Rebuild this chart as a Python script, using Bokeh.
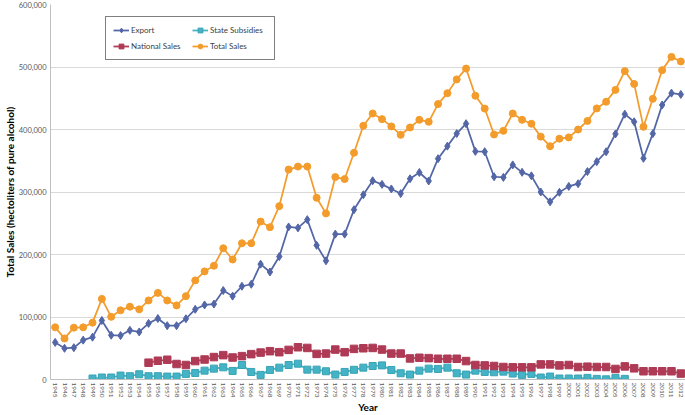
from bokeh.plotting import figure
from bokeh.models import FixedTicker, NumeralTickFormatter, Legend, LegendItem, Range1d
from bokeh.embed import file_html
from bokeh.resources import INLINE

years = list(range(1945, 2013))
export = [59.4, 49.9, 50.9, 63.0, 67.7, 94.5, 70.9, 70.3, 78.7, 76.1,
          89.8, 97.6, 86.1, 86.1, 97.2, 112.3, 119.3, 120.7, 142.4, 133.4,
          149.2, 152.4, 184.6, 172.0, 196.7, 244.1, 242.6, 255.8, 214.7, 189.9,
          232.6, 232.6, 271.7, 295.6, 318.0, 312.2, 304.9, 297.5, 321.2, 331.2,
          317.6, 353.3, 373.4, 393.5, 409.3, 365.0, 364.5, 324.4, 323.4, 343.4,
          331.5, 325.9, 300.0, 284.3, 299.5, 309.0, 313.3, 332.7, 348.6, 364.4,
          392.9, 424.5, 412.4, 353.9, 393.4, 439.2, 458.2, 456.1]
total_sales = [83.5, 65.7, 83.0, 83.5, 90.9, 129.0, 100.3, 110.7, 116.5, 112.3,
               126.5, 138.6, 126.5, 118.6, 133.4, 158.6, 173.0, 182.0, 210.0, 192.0,
               218.0, 218.0, 252.7, 243.7, 277.4, 335.9, 340.7, 340.7, 290.7, 265.8,
               323.9, 320.7, 362.8, 406.0, 425.6, 416.6, 405.0, 391.5, 403.2, 415.5,
               412.3, 440.7, 458.1, 480.2, 497.5, 454.0, 433.5, 392.0, 397.9, 425.6,
               415.5, 409.2, 388.6, 373.3, 385.3, 387.4, 400.0, 413.7, 433.8, 444.4,
               463.4, 493.4, 472.9, 404.3, 449.1, 495.0, 516.2, 508.9]

national_years = list(range(1955, 2013))
national_sales = [26.9, 30.0, 31.6, 24.8, 23.2, 29.5, 32.0, 35.9, 39.0, 35.2,
                  37.4, 40.6, 43.1, 45.3, 43.7, 47.4, 51.6, 50.5, 41.0, 41.5,
                  47.9, 43.7, 49.0, 50.0, 50.5, 47.9, 41.5, 41.5, 33.7, 34.8,
                  34.2, 33.2, 33.2, 33.2, 29.5, 23.2, 22.6, 21.6, 20.0, 19.5,
                  19.5, 19.5, 24.2, 24.2, 22.6, 23.2, 20.0, 20.5, 20.0, 20.0,
                  16.9, 21.0, 17.9, 13.2, 13.2, 13.2, 13.2, 9.5]

subsidy_years = list(range(1949, 2007))
state_subsidies = [1.6, 3.2, 3.2, 6.3, 5.3, 8.4, 5.3, 5.3, 4.7, 4.7,
                   9.0, 10.5, 14.2, 17.4, 19.5, 13.7, 23.2, 12.1, 7.4, 15.3,
                   19.0, 23.2, 25.3, 15.8, 15.8, 13.2, 7.9, 12.1, 15.5, 19.0,
                   21.6, 22.6, 15.3, 10.0, 7.9, 14.2, 17.4, 16.9, 19.0, 10.0,
                   7.9, 14.2, 12.1, 11.6, 12.6, 9.5, 7.4, 9.0, 3.2, 4.7,
                   1.6, 1.6, 1.6, 2.6, 1.0, 0.3, 2.6, 1.0]

y_ticks = [0, 100000, 200000, 300000, 400000, 500000, 600000]

K = 1000
export_v = [v * K for v in export]
total_v = [v * K for v in total_sales]
national_v = [v * K for v in national_sales]
subsidy_v = [v * K for v in state_subsidies]

FONT = "Lato"
C_EXP = "#5366A6"
C_NAT = "#AE3A55"
C_SUB = "#43B3C5"
C_TOT = "#F39C2C"

p = figure(width=685, height=415, output_backend="svg", toolbar_location=None,
           x_range=Range1d(1944.5, 2012.5), y_range=Range1d(0, 600000),
           min_border_top=4, min_border_right=0, min_border_left=0, min_border_bottom=0)
p.outline_line_color = None
p.background_fill_color = "white"
p.xgrid.grid_line_color = None
p.ygrid.grid_line_color = "#D9D9D9"
p.ygrid.grid_line_width = 1

p.yaxis.ticker = FixedTicker(ticks=y_ticks)
p.yaxis.formatter = NumeralTickFormatter(format="0,0")
p.yaxis.major_tick_line_color = None
p.yaxis.minor_tick_line_color = None
p.yaxis.major_tick_out = 0
p.yaxis.major_tick_in = 0
p.yaxis.minor_tick_out = 0
p.yaxis.axis_line_color = "#BFBFBF"
p.yaxis.major_label_text_font = FONT
p.yaxis.major_label_text_font_size = "7.5px"
p.yaxis.major_label_text_color = "#595959"
p.yaxis.major_label_standoff = 4
p.yaxis.axis_label = "Total Sales (hectoliters of pure alcohol)"
p.yaxis.axis_label_text_font = FONT
p.yaxis.axis_label_text_font_size = "10px"
p.yaxis.axis_label_text_font_style = "bold"
p.yaxis.axis_label_text_color = "black"
p.yaxis.axis_label_standoff = 0

p.xaxis.ticker = FixedTicker(ticks=years)
p.xaxis.major_label_orientation = "vertical"
p.xaxis.major_tick_line_color = None
p.xaxis.minor_tick_line_color = None
p.xaxis.major_tick_out = 0
p.xaxis.major_tick_in = 0
p.xaxis.minor_tick_out = 0
p.xaxis.axis_line_color = "#BFBFBF"
p.xaxis.major_label_text_font = FONT
p.xaxis.major_label_text_font_size = "6.5px"
p.xaxis.major_label_text_color = "#595959"
p.xaxis.major_label_standoff = 3
p.xaxis.axis_label = "Year"
p.xaxis.axis_label_text_font = FONT
p.xaxis.axis_label_text_font_size = "10px"
p.xaxis.axis_label_text_font_style = "bold"
p.xaxis.axis_label_text_color = "black"
p.xaxis.axis_label_standoff = 0

lw = 1.75
l_exp = p.line(years, export_v, line_color=C_EXP, line_width=lw)
m_exp = p.scatter(years, export_v, marker="diamond", size=8, fill_color=C_EXP, line_color=C_EXP)
l_sub = p.line(subsidy_years, subsidy_v, line_color=C_SUB, line_width=lw)
m_sub = p.scatter(subsidy_years, subsidy_v, marker="square", size=7, fill_color=C_SUB, line_color="#38A3B5")
l_nat = p.line(national_years, national_v, line_color=C_NAT, line_width=lw)
m_nat = p.scatter(national_years, national_v, marker="square", size=7.5, fill_color=C_NAT, line_color=C_NAT)
l_tot = p.line(years, total_v, line_color=C_TOT, line_width=lw)
m_tot = p.scatter(years, total_v, marker="circle", size=7, fill_color=C_TOT, line_color=C_TOT)

legend = Legend(items=[
    LegendItem(label="Export", renderers=[l_exp, m_exp]),
    LegendItem(label="State Subsidies", renderers=[l_sub, m_sub]),
    LegendItem(label="National Sales", renderers=[l_nat, m_nat]),
    LegendItem(label="Total Sales", renderers=[l_tot, m_tot]),
], location=(55, 319), orientation="horizontal", ncols=2)
legend.label_text_font = FONT
legend.label_text_font_size = "8px"
legend.label_text_color = "#404040"
legend.border_line_color = "black"
legend.border_line_width = 1.5
legend.background_fill_color = "white"
legend.background_fill_alpha = 1
legend.glyph_width = 16
legend.glyph_height = 12
legend.label_height = 12
legend.label_width = 57
legend.label_standoff = 2
legend.spacing = 4
legend.padding = 7
legend.margin = 0
p.add_layout(legend)

open("out.html", "w").write(file_html(p, INLINE))
